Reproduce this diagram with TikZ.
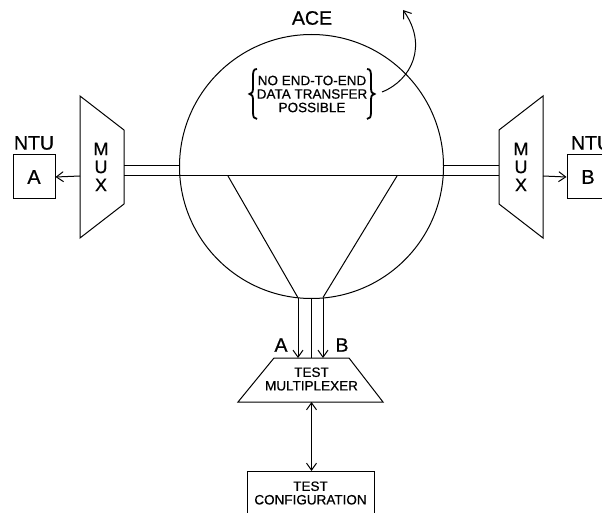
\documentclass[tikz,border=0pt]{standalone}
\usepackage{fontspec}
\setmainfont{Liberation Sans}
\newfontfamily\heavy[FakeBold=0.6]{Liberation Sans}
\usetikzlibrary{arrows.meta}
\tikzset{
  ln/.style={line width=1pt, black},
  tip/.style={-{Straight Barb[length=7pt,width=10pt,line width=1pt]}},
  bigtxt/.style={font=\heavy\fontsize{19.5}{21}\selectfont, inner sep=0pt},
  muxtxt/.style={font=\heavy\fontsize{18}{18}\selectfont, inner sep=0pt},
  smalltxt/.style={font=\heavy\fontsize{13.5}{13.5}\selectfont, align=center, inner sep=0pt},
  boxtxt/.style={draw, line width=1pt, inner sep=0pt}
}
\begin{document}
\begin{tikzpicture}[x=1pt,y=-1pt]
\useasboundingbox (0,0) rectangle (602,513);
\clip (0,0) rectangle (602,513);
% ACE circle
\node[ln, draw, circle, minimum size=264pt, inner sep=0pt] (ace) at (311.5,166.5) {};
\node[bigtxt] (acelbl) at (312,18) {ACE};
% note text
\node[smalltxt] (note) at (312,94) {NO END-TO-END\\DATA TRANSFER\\POSSIBLE};
\draw[line width=1.8pt] (257,69) .. controls (253,69) and (253,72) .. (253,78) -- (253,88) .. controls (253,92) and (252,94) .. (249.5,94)
          .. controls (252,94) and (253,96) .. (253,100) -- (253,112) .. controls (253,117) and (254,119) .. (257,119);
\draw[line width=1.8pt] (367,69) .. controls (371,69) and (371,72) .. (371,78) -- (371,88) .. controls (371,92) and (372,94) .. (374.5,94)
          .. controls (372,94) and (371,96) .. (371,100) -- (371,112) .. controls (371,117) and (370,119) .. (367,119);
\coordinate (cs) at (382,92);
\coordinate (ce) at (403,10);
\draw[ln, tip] (cs) .. controls (412,80) and (428,45) .. (ce);
% MUX left
\draw[ln] (80,96) -- (124,130) -- (124,204) -- (80,238) -- cycle;
\node[muxtxt] (mlM) at (101,149) {M};
\node[muxtxt] (mlU) at (101,167) {U};
\node[muxtxt] (mlX) at (101,185) {X};
% MUX right
\draw[ln] (499,130) -- (543,96) -- (543,238) -- (499,204) -- cycle;
\node[muxtxt] (mrM) at (521,149) {M};
\node[muxtxt] (mrU) at (521,167) {U};
\node[muxtxt] (mrX) at (521,185) {X};
% connecting lines
\coordinate (ml1) at (124,166); \coordinate (cl1) at (179.5,166);
\coordinate (ml2) at (124,176); \coordinate (mr2) at (499,176);
\coordinate (cr1) at (443.5,166); \coordinate (mr1) at (499,166);
\draw[ln] (ml1) -- (cl1);
\draw[ln] (ml2) -- (mr2);
\draw[ln] (cr1) -- (mr1);
% triangle
\coordinate (t1) at (228,176); \coordinate (t2) at (397,176);
\coordinate (b1) at (298,297.8); \coordinate (b2) at (323,297.5); \coordinate (bm) at (311.5,298.5);
\draw[ln] (t1) -- (b1);
\draw[ln] (t2) -- (b2);
% NTU A
\node[boxtxt, minimum width=42pt, minimum height=44pt, font=\heavy\fontsize{20}{22}\selectfont] (ntua) at (34,177) {A};
\node[bigtxt] (ntual) at (34,143) {NTU};
\draw[ln, tip] (80,176) -- (ntua.east);
% NTU B
\node[boxtxt, minimum width=42pt, minimum height=44pt, font=\heavy\fontsize{20}{22}\selectfont] (ntub) at (588,177) {B};
\node[bigtxt] (ntubl) at (591,143) {NTU};
\draw[ln, tip] (543,176) -- (ntub.west);
% test multiplexer
\draw[ln] (274,358) -- (349,358) -- (383,402) -- (238,402) -- cycle;
\node[smalltxt] (tmux) at (311.5,379) {TEST\\MULTIPLEXER};
\coordinate (a1) at (298,358); \coordinate (a2) at (323,358); \coordinate (am) at (311.5,358);
\draw[ln, tip] (b1) -- (a1);
\draw[ln, tip] (b2) -- (a2);
\draw[ln] (bm) -- (am);
\node[bigtxt] (lblA) at (281,345) {A};
\node[bigtxt] (lblB) at (342,345) {B};
% test configuration
\draw[ln] (247,540) -- (247,471) -- (374,471) -- (374,540);
\node[smalltxt] (tconf) at (310.5,493) {TEST\\CONFIGURATION};
\coordinate (mb) at (311.5,402); \coordinate (ct) at (311.5,471);
\draw[ln, {Straight Barb[length=7pt,width=10pt,line width=1pt]}-{Straight Barb[length=7pt,width=10pt,line width=1pt]}] (mb) -- (ct);
\end{tikzpicture}
\end{document}
